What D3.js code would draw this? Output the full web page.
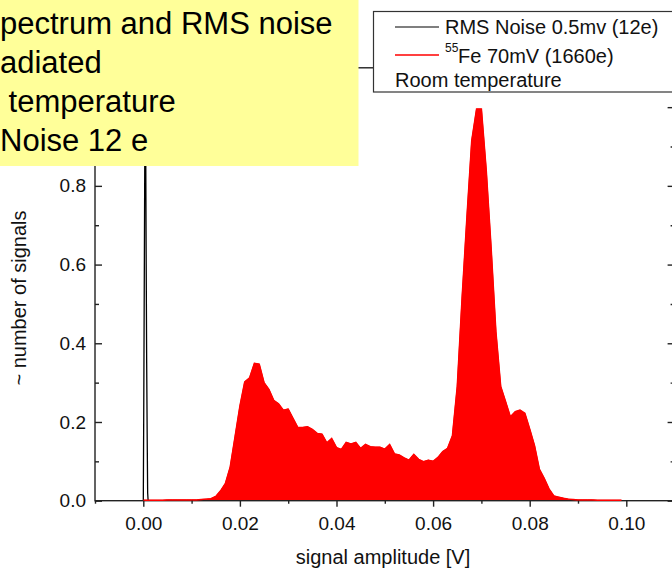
<!DOCTYPE html>
<html>
<head>
<meta charset="utf-8">
<script src="https://d3js.org/d3.v7.min.js"></script>
<style>
body { margin: 0; background: #fff; }
svg { display: block; font-family: "Liberation Sans", Arial, sans-serif; }
</style>
</head>
<body>
<svg id="svg"></svg>
<script>
// 55Fe spectrum, 0.001 V bins
const feAmplitude = [
  0.000, 0.001, 0.002, 0.003, 0.004, 0.005, 0.006, 0.007, 0.008, 0.009,
  0.010, 0.011, 0.012, 0.013, 0.014, 0.015, 0.016, 0.017, 0.018, 0.019,
  0.020, 0.021, 0.022, 0.023, 0.024, 0.025, 0.026, 0.027, 0.028, 0.029,
  0.030, 0.031, 0.032, 0.033, 0.034, 0.035, 0.036, 0.037, 0.038, 0.039,
  0.040, 0.041, 0.042, 0.043, 0.044, 0.045, 0.046, 0.047, 0.048, 0.049,
  0.050, 0.051, 0.052, 0.053, 0.054, 0.055, 0.056, 0.057, 0.058, 0.059,
  0.060, 0.061, 0.062, 0.063, 0.064, 0.065, 0.066, 0.067, 0.068, 0.069,
  0.070, 0.071, 0.072, 0.073, 0.074, 0.075, 0.076, 0.077, 0.078, 0.079,
  0.080, 0.081, 0.082, 0.083, 0.084, 0.085, 0.086, 0.087, 0.088, 0.089,
  0.090, 0.091, 0.092, 0.093, 0.094, 0.095, 0.096, 0.097, 0.098, 0.099
];
const feCounts = [
  0.001, 0.001, 0.001, 0.001, 0.001, 0.002, 0.002, 0.002, 0.002, 0.002,
  0.002, 0.002, 0.003, 0.004, 0.005, 0.011, 0.025, 0.044, 0.086, 0.163,
  0.240, 0.302, 0.312, 0.349, 0.347, 0.300, 0.283, 0.255, 0.246, 0.230,
  0.233, 0.209, 0.186, 0.186, 0.188, 0.181, 0.171, 0.169, 0.147, 0.158,
  0.135, 0.130, 0.148, 0.144, 0.148, 0.133, 0.143, 0.137, 0.136, 0.136,
  0.131, 0.143, 0.119, 0.116, 0.109, 0.103, 0.118, 0.105, 0.099, 0.103,
  0.100, 0.110, 0.125, 0.133, 0.165, 0.290, 0.515, 0.720, 0.915, 0.995,
  0.995, 0.840, 0.645, 0.430, 0.290, 0.252, 0.213, 0.226, 0.230, 0.222,
  0.182, 0.140, 0.080, 0.057, 0.030, 0.012, 0.009, 0.006, 0.004, 0.003,
  0.002, 0.002, 0.002, 0.002, 0.001, 0.001, 0.001, 0.001, 0.001, 0.001
];
// RMS noise peak
const noiseAmplitude = [0, 0.0001, 0.0002, 0.0003, 0.0004, 0.0005, 0.0006, 0.0007, 0.0008, 0.0009, 0.001, 0.002];
const noiseCounts = [0, 0.25, 0.55, 0.85, 1.0, 0.9, 0.6, 0.35, 0.17, 0.02, 0, 0];

const xTicks = [0.00, 0.02, 0.04, 0.06, 0.08, 0.10];
const xMinor = [-0.01, 0.01, 0.03, 0.05, 0.07, 0.09, 0.11];
const yTicks = [0.0, 0.2, 0.4, 0.6, 0.8, 1.0];
const yLabels = ["0.0", "0.2", "0.4", "0.6", "0.8", ""]; // 1.0 sits under the note box
const yMinor = [0.1, 0.3, 0.5, 0.7, 0.9, 1.1];
const noteLines = [
  {text: "pectrum and RMS noise", x: 0},
  {text: "adiated", x: 0},
  {text: " temperature", x: 0},
  {text: "Noise 12 e", x: 0}
];

const width = 672, height = 572;
const svg = d3.select("#svg").attr("width", width).attr("height", height);

const x = d3.scaleLinear().domain([-0.01, 0.11]).range([95, 674.6]);
const y = d3.scaleLinear().domain([0, 1.1]).range([500.7, 67.8]);

svg.append("defs").append("clipPath").attr("id", "plot")
  .append("rect").attr("x", 95).attr("y", 67.8).attr("width", 579.6).attr("height", 432.9);

const fe = feAmplitude.map((a, i) => ({a: a, n: feCounts[i]}));
const noise = noiseAmplitude.map((a, i) => ({a: a, n: noiseCounts[i]}));

const g = svg.append("g").attr("clip-path", "url(#plot)");
g.append("path")
  .datum(fe)
  .attr("fill", "#ff0000")
  .attr("stroke", "#ff0000")
  .attr("stroke-width", 1)
  .attr("d", d3.area().x(d => x(d.a)).y0(y(0)).y1(d => y(d.n)));

// frame
const ink = "#222";
svg.append("rect").attr("x", 95).attr("y", 67.8).attr("width", 579.6).attr("height", 432.9)
  .attr("fill", "none").attr("stroke", ink).attr("stroke-width", 1.4);

// redraw red baseline on top of the axis
svg.append("path")
  .datum(fe)
  .attr("fill", "none").attr("stroke", "#ff0000").attr("stroke-width", 1.5)
  .attr("d", d3.line().x(d => x(d.a)).y(d => Math.min(y(d.n), y(0) - 0.3)));

g.append("path")
  .datum(noise)
  .attr("fill", "none").attr("stroke", "#000").attr("stroke-width", 1.3)
  .attr("d", d3.line().x(d => x(d.a)).y(d => y(d.n)));

// bottom axis: ticks outward
const xAxis = svg.append("g").attr("transform", "translate(0,500.7)");
xAxis.call(d3.axisBottom(x).tickValues(xTicks).tickSize(6).tickFormat(d3.format(".2f")));
xAxis.append("g").call(d3.axisBottom(x).tickValues(xMinor).tickSize(3).tickFormat(""));
xAxis.selectAll(".domain").remove();
xAxis.selectAll("line").attr("stroke", ink).attr("stroke-width", 1.4);
xAxis.selectAll("text").attr("font-size", 19).attr("fill", "#111").attr("y", 29.5).attr("dy", null);
xAxis.attr("font-family", null);

// left axis: ticks inward
const yAxis = svg.append("g").attr("transform", "translate(95,0)");
yAxis.call(d3.axisRight(y).tickValues(yTicks).tickSize(7).tickFormat((d, i) => yLabels[i]));
yAxis.append("g").call(d3.axisRight(y).tickValues(yMinor).tickSize(4).tickFormat(""));
yAxis.selectAll(".domain").remove();
yAxis.selectAll("line").attr("stroke", ink).attr("stroke-width", 1.4);
yAxis.selectAll("text").attr("font-size", 19).attr("fill", "#111")
  .attr("x", -9).attr("text-anchor", "end");
yAxis.attr("font-family", null);

// right axis: ticks inward
const rAxis = svg.append("g").attr("transform", "translate(674.6,0)");
rAxis.call(d3.axisLeft(y).tickValues(yTicks).tickSize(7).tickFormat(""));
rAxis.append("g").call(d3.axisLeft(y).tickValues(yMinor).tickSize(4).tickFormat(""));
rAxis.selectAll(".domain").remove();
rAxis.selectAll("line").attr("stroke", ink).attr("stroke-width", 1.4);

// top axis: ticks inward
const tAxis = svg.append("g").attr("transform", "translate(0,67.8)");
tAxis.call(d3.axisTop(x).tickValues(xTicks).tickSize(-7).tickFormat(""));
tAxis.selectAll(".domain").remove();
tAxis.selectAll("line").attr("stroke", ink).attr("stroke-width", 1.4);

// axis titles
svg.append("text").attr("x", 383).attr("y", 564).attr("text-anchor", "middle")
  .attr("font-size", 20).attr("fill", "#111").text("signal amplitude [V]");
svg.append("text").attr("transform", "translate(26,298) rotate(-90)").attr("text-anchor", "middle")
  .attr("font-size", 20).attr("fill", "#111").text("~ number of signals");

// legend
const lg = svg.append("g");
lg.append("rect").attr("x", 373.5).attr("y", 11.5).attr("width", 320).attr("height", 80.5)
  .attr("fill", "#fff").attr("stroke", "#333").attr("stroke-width", 1.2);
lg.append("line").attr("x1", 395).attr("x2", 439).attr("y1", 27).attr("y2", 27)
  .attr("stroke", "#000").attr("stroke-width", 1.2);
lg.append("text").attr("x", 445).attr("y", 34).attr("font-size", 20).attr("fill", "#111")
  .text("RMS Noise 0.5mv (12e)");
lg.append("line").attr("x1", 395).attr("x2", 439).attr("y1", 55).attr("y2", 55)
  .attr("stroke", "#ff0000").attr("stroke-width", 1.5);
lg.append("text").attr("x", 445).attr("y", 52).attr("font-size", 12).attr("fill", "#111").text("55");
lg.append("text").attr("x", 458).attr("y", 63).attr("font-size", 20).attr("fill", "#111")
  .text("Fe 70mV (1660e)");
lg.append("text").attr("x", 395).attr("y", 87).attr("font-size", 20).attr("fill", "#111")
  .text("Room temperature");

// yellow note box (cut at the page edge)
const note = svg.append("g");
note.append("rect").attr("x", -5).attr("y", -5).attr("width", 363.5).attr("height", 171)
  .attr("fill", "#ffff99");
note.selectAll("text").data(noteLines).join("text")
  .attr("x", d => d.x).attr("y", (d, i) => 34 + i * 39)
  .attr("font-size", 31).attr("fill", "#000")
  .attr("xml:space", "preserve").style("white-space", "pre")
  .text(d => d.text);
</script>
</body>
</html>
